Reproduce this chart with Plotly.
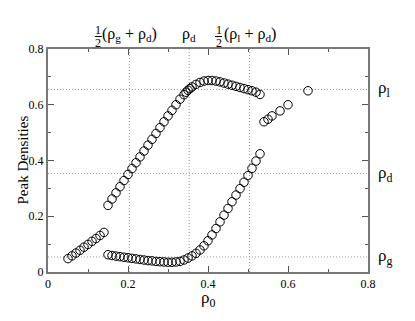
import plotly.graph_objects as go

# Characteristic densities
rho_g = 0.054
rho_d = 0.353
rho_l = 0.655

# Branch 1 (low density, single peak)
x1 = [0.05, 0.06, 0.07, 0.08, 0.09, 0.10, 0.11, 0.12, 0.13, 0.14]
y1 = [0.048, 0.058, 0.068, 0.078, 0.089, 0.099, 0.110, 0.120, 0.131, 0.142]

# Branch 2 (upper peak)
x2 = [0.15, 0.16, 0.17, 0.18, 0.19, 0.20, 0.21, 0.22, 0.23, 0.24, 0.25, 0.26, 0.27,
      0.28, 0.29, 0.30, 0.31, 0.32, 0.33, 0.34, 0.345, 0.35, 0.355, 0.36, 0.37, 0.38,
      0.39, 0.40, 0.41, 0.42, 0.43, 0.44, 0.45, 0.46, 0.47, 0.48, 0.49, 0.50, 0.51,
      0.52, 0.53]
y2 = [0.239, 0.262, 0.284, 0.306, 0.328, 0.350, 0.371, 0.392, 0.413, 0.434, 0.455,
      0.476, 0.497, 0.518, 0.539, 0.560, 0.580, 0.600, 0.620, 0.636, 0.645, 0.652,
      0.658, 0.664, 0.673, 0.680, 0.685, 0.687, 0.687, 0.685, 0.682, 0.678, 0.674,
      0.670, 0.666, 0.662, 0.658, 0.654, 0.650, 0.645, 0.637]

# Branch 3 (lower peak)
x3 = [0.15, 0.16, 0.17, 0.18, 0.19, 0.20, 0.21, 0.22, 0.23, 0.24, 0.25, 0.26, 0.27,
      0.28, 0.29, 0.30, 0.31, 0.32, 0.33, 0.34, 0.35, 0.36, 0.37, 0.38, 0.39, 0.40,
      0.41, 0.42, 0.43, 0.44, 0.45, 0.46, 0.47, 0.48, 0.49, 0.50, 0.51, 0.52, 0.53]
y3 = [0.062, 0.059, 0.057, 0.055, 0.053, 0.051, 0.049, 0.047, 0.045, 0.043, 0.041,
      0.040, 0.038, 0.037, 0.036, 0.035, 0.035, 0.036, 0.038, 0.043, 0.050, 0.058,
      0.067, 0.079, 0.094, 0.112, 0.133, 0.156, 0.180, 0.204, 0.228, 0.252, 0.276,
      0.299, 0.322, 0.346, 0.372, 0.398, 0.424]

# Branch 4 (high density)
x4 = [0.54, 0.55, 0.56, 0.58, 0.60, 0.65]
y4 = [0.539, 0.548, 0.560, 0.578, 0.600, 0.650]

FONT = "Liberation Serif"
marker = dict(symbol="circle-open", size=8.5, color="black", line=dict(width=1, color="black"))

fig = go.Figure()
for xs, ys in [(x1, y1), (x2, y2), (x3, y3), (x4, y4)]:
    fig.add_trace(go.Scatter(x=xs, y=ys, mode="markers", marker=marker,
                             showlegend=False, hoverinfo="skip"))

vlines = [(rho_g + rho_d) / 2, rho_d, (rho_l + rho_d) / 2]
hlines = [rho_g, rho_d, rho_l]
grid_line = dict(color="#999", width=1, dash="1px,2px")
for v in vlines:
    fig.add_shape(type="line", x0=v, x1=v, y0=0, y1=0.8, xref="x", yref="y",
                  line=grid_line, layer="below")
for h in hlines:
    fig.add_shape(type="line", x0=0, x1=0.8, y0=h, y1=h, xref="x", yref="y",
                  line=grid_line, layer="below")

# Right-side labels
right_labels = ["ρ<sub>g</sub>", "ρ<sub>d</sub>", "ρ<sub>l</sub>"]
for h, t in zip(hlines, right_labels):
    fig.add_annotation(x=1.0, xref="paper", y=h, yref="y", text=t, showarrow=False,
                       xanchor="left", xshift=8, font=dict(family=FONT, size=17, color="black"))

# Top labels
top_texts = ["(ρ<sub>g</sub> + ρ<sub>d</sub>)", "ρ<sub>d</sub>", "(ρ<sub>l</sub> + ρ<sub>d</sub>)"]
top_has_half = [True, False, True]
for v, t, half in zip(vlines, top_texts, top_has_half):
    fig.add_annotation(x=v, xref="x", y=1.067, yref="paper", text=t, showarrow=False,
                       yanchor="middle", yshift=0,
                       font=dict(family=FONT, size=16, color="black"))
    if half:
        fig.add_annotation(x=v, xref="x", y=1.085, yref="paper", text="1",
                           showarrow=False, yanchor="middle", xshift=-31,
                           font=dict(family=FONT, size=12, color="black"))
        fig.add_annotation(x=v, xref="x", y=1.025, yref="paper", text="2",
                           showarrow=False, yanchor="middle", xshift=-31,
                           font=dict(family=FONT, size=12, color="black"))
        fig.add_shape(type="line", xref="x", yref="paper",
                      x0=v - 0.0865, x1=v - 0.069, y0=1.056, y1=1.056,
                      line=dict(color="black", width=1))

# Axis titles
fig.add_annotation(x=0.5, xref="paper", y=0, yref="paper", yshift=-27, text="ρ<sub>0</sub>",
                   showarrow=False, yanchor="middle", xanchor="center",
                   font=dict(family=FONT, size=17, color="black"))
fig.add_annotation(x=0, xref="paper", y=0.5, yref="paper", xshift=-26, text="Peak Densities",
                   showarrow=False, textangle=-90, xanchor="center", yanchor="middle",
                   font=dict(family=FONT, size=15, color="black"))

fig.update_layout(
    width=415, height=321,
    margin=dict(l=48, r=47, t=49, b=49, autoexpand=False),
    paper_bgcolor="white", plot_bgcolor="white",
    font=dict(family=FONT, size=12, color="black"),
    xaxis=dict(range=[0, 0.8], dtick=0.2, showgrid=False, zeroline=False, automargin=False,
               ticks="inside", ticklen=6, tickcolor="#555", showline=True, linecolor="#777",
               linewidth=2, mirror="allticks",
               minor=dict(dtick=0.1, ticks="inside", ticklen=3, tickcolor="#555", showgrid=False),
               tickfont=dict(family=FONT, size=12)),
    yaxis=dict(range=[0, 0.8], dtick=0.2, showgrid=False, zeroline=False, automargin=False,
               ticks="inside", ticklen=6, tickcolor="#555", showline=True, linecolor="#777",
               linewidth=2, mirror="allticks",
               minor=dict(dtick=0.1, ticks="inside", ticklen=3, tickcolor="#555", showgrid=False),
               tickfont=dict(family=FONT, size=12)),
)

fig.write_html("out.html", config={"displayModeBar": False},
               post_script="document.body.style.margin='0';")
